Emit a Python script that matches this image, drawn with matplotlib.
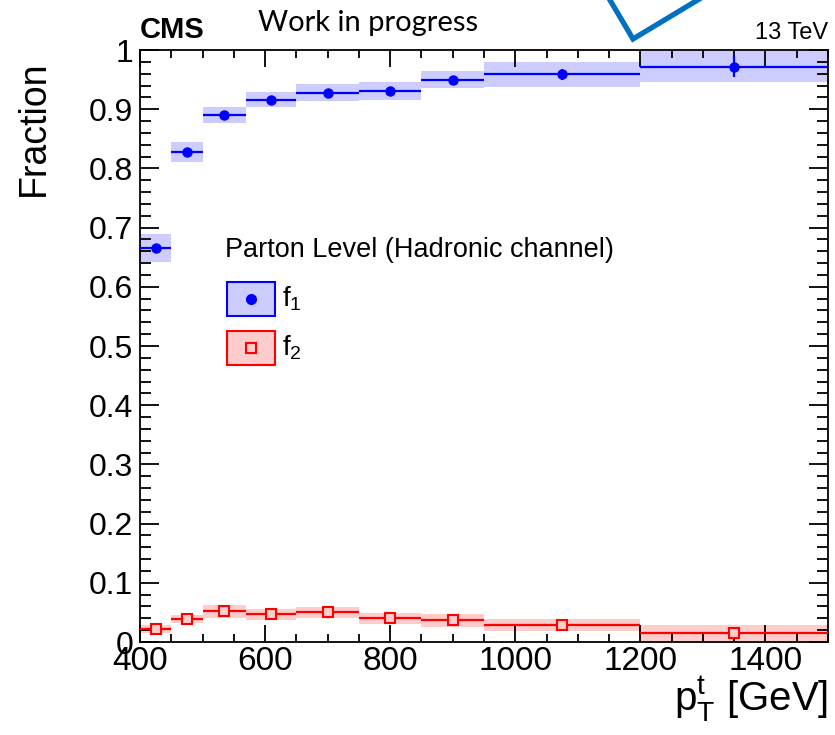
import numpy as np
import matplotlib.pyplot as plt
from matplotlib.lines import Line2D
from matplotlib.patches import Rectangle
from matplotlib.ticker import MultipleLocator, FuncFormatter

plt.rcParams['font.family'] = ['Liberation Sans', 'DejaVu Sans']

# top-quark pT bins [GeV]
bin_edges = [400, 450, 500, 570, 650, 750, 850, 950, 1200, 1500]

# fraction f1 with stat / syst uncertainties
f1 = [0.666, 0.828, 0.890, 0.916, 0.928, 0.931, 0.950, 0.959, 0.972]
f1_stat = [0.004, 0.004, 0.003, 0.003, 0.004, 0.004, 0.006, 0.009, 0.018]
f1_syst = [0.024, 0.017, 0.014, 0.013, 0.014, 0.015, 0.015, 0.021, 0.026]

# fraction f2
f2 = [0.022, 0.039, 0.052, 0.047, 0.050, 0.040, 0.037, 0.029, 0.015]
f2_stat = [0.003, 0.003, 0.003, 0.003, 0.003, 0.003, 0.003, 0.004, 0.006]
f2_syst = [0.007, 0.007, 0.011, 0.009, 0.009, 0.009, 0.011, 0.010, 0.013]

edges = np.array(bin_edges, dtype=float)
lo = edges[:-1]
widths = np.diff(edges)
centers = lo + widths / 2

blue_band = '#ccccff'
red_band = '#ffcccc'

fig = plt.figure(figsize=(8.35, 7.35), dpi=100)
ax = fig.add_axes([140 / 835, 1 - 642 / 735, 688 / 835, 592 / 735])

# systematic bands
for vals, syst, col in [(f1, f1_syst, blue_band), (f2, f2_syst, red_band)]:
    vals = np.array(vals)
    syst = np.array(syst)
    ax.bar(lo, 2 * syst, width=widths, bottom=vals - syst, align='edge',
           color=col, linewidth=0, zorder=1)

# points with bin-width x errors and stat y errors
ax.errorbar(centers, f1, xerr=widths / 2, yerr=f1_stat, fmt='o', color='blue',
            ms=6.5, lw=1.6, capsize=0, zorder=3)
ax.errorbar(centers, f2, xerr=widths / 2, yerr=f2_stat, fmt='s', color='red',
            mfc=red_band, mec='red', mew=1.5, ms=7.5, lw=1.6, capsize=0, zorder=3)

ax.set_xlim(400, 1500)
ax.set_ylim(0, 1)
ax.xaxis.set_major_locator(MultipleLocator(200))
ax.xaxis.set_minor_locator(MultipleLocator(50))
ax.yaxis.set_major_locator(MultipleLocator(0.1))
ax.yaxis.set_minor_locator(MultipleLocator(0.02))
ax.yaxis.set_major_formatter(FuncFormatter(lambda v, p: f'{v:g}'))

ax.tick_params(which='both', direction='in', top=True, right=True, width=1.3)
ax.tick_params(axis='x', which='major', length=12, labelsize=24, pad=3)
ax.tick_params(axis='x', which='minor', length=6)
ax.tick_params(axis='y', which='major', length=14, labelsize=23, pad=5)
ax.tick_params(axis='y', which='minor', length=8)
for sp in ax.spines.values():
    sp.set_linewidth(1.3)

# legend drawn by hand in axes coordinates
ax.text(0.1235, 0.662, 'Parton Level (Hadronic channel)', fontsize=19.5,
        ha='left', va='center', transform=ax.transAxes)
entries = [(0.5795, blue_band, 'blue', 'o', 'blue', r'$\mathregular{f_{1}}$'),
           (0.4966, red_band, 'red', 's', red_band, r'$\mathregular{f_{2}}$')]
for yc, fc, ec, mk, mfc, lab in entries:
    ax.add_patch(Rectangle((0.1265, yc - 0.0285), 0.0695, 0.057, transform=ax.transAxes,
                           facecolor=fc, edgecolor=ec, lw=1.5, zorder=4))
    ax.plot([0.1612], [yc], marker=mk, ms=6.5 if mk == 'o' else 7, color=ec, mfc=mfc,
            mew=1.5, transform=ax.transAxes, zorder=5)
    ax.text(0.206, yc, lab, fontsize=20, ha='left', va='center', transform=ax.transAxes)

fig.text(140 / 835, 1 - 38 / 735, 'CMS', fontsize=21, weight='bold', va='baseline')
fig.text(828 / 835, 1 - 39 / 735, '13 TeV', fontsize=17, ha='right', va='baseline')
fig.text(258 / 835, 1 - 31 / 735, 'Work in progress', family=['Lato', 'DejaVu Sans'],
         fontsize=21, va='baseline')
fig.text(828 / 835, 1 - 711 / 735, r'$\mathregular{p_{T}^{t}}$ [GeV]', fontsize=29,
         ha='right', va='baseline')
fig.text(34 / 835, 1 - 60 / 735, 'Fraction', fontsize=27, rotation=90,
         ha='center', va='top')

# blue pen stroke across the top edge
fig.add_artist(Line2D([607 / 835, 633 / 835, 706 / 835],
                      [1 + 5 / 735, 1 - 39 / 735, 1 + 5 / 735],
                      transform=fig.transFigure, color='#0070c0', lw=3.8,
                      solid_joinstyle='miter'))

fig.savefig('out.png', dpi=100)
